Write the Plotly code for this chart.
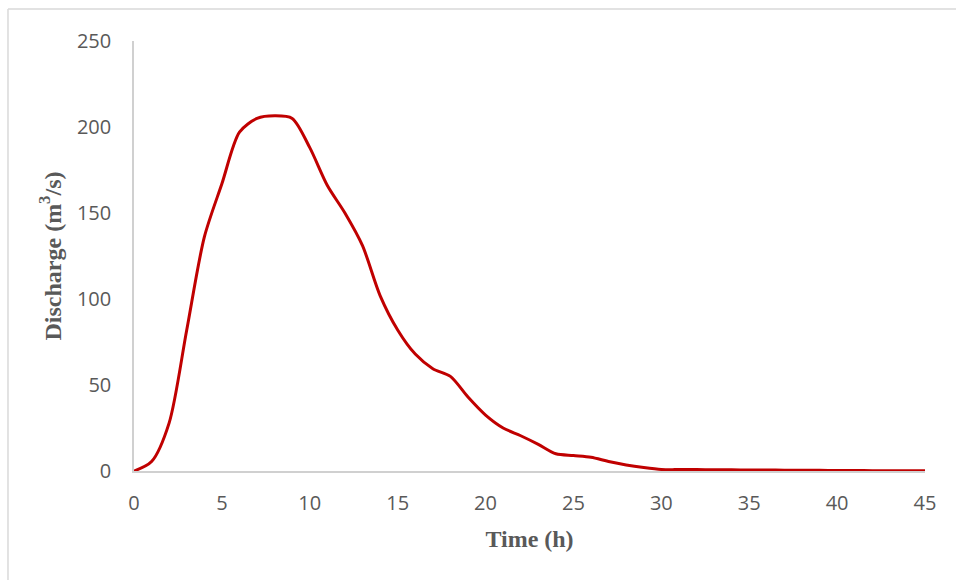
import plotly.graph_objects as go

# Data
time_h = list(range(0, 46))
discharge = [0, 5.5, 28, 82, 136, 167, 197, 205, 206.5, 205, 188, 166, 150, 131, 102,
             82, 68, 59.5, 55, 43, 32.5, 25, 20.5, 15.5, 10, 9, 8, 5.5, 3.5, 2,
             0.9, 0.8, 0.8, 0.7, 0.7, 0.6, 0.6, 0.5, 0.4, 0.4, 0.3, 0.3, 0.2, 0.2, 0.1, 0.1]

x_ticks = [0, 5, 10, 15, 20, 25, 30, 35, 40, 45]
y_ticks = [0, 50, 100, 150, 200, 250]

fig = go.Figure()
fig.add_trace(go.Scatter(
    x=time_h, y=discharge, mode="lines",
    line=dict(color="#C00000", width=3, shape="spline", smoothing=0.8),
    showlegend=False, hoverinfo="x+y",
))

tick_font = dict(family="Open Sans", size=20, color="#595959")
title_font = dict(family="Liberation Serif", size=24, color="#595959")

fig.update_layout(
    width=956, height=580,
    margin=dict(l=134, r=31, t=41, b=109),
    paper_bgcolor="white", plot_bgcolor="white",
    xaxis=dict(
        range=[0, 45], tickvals=x_ticks, ticktext=[str(v) for v in x_ticks],
        showgrid=False, zeroline=False, showline=True, linecolor="#d0d0d0", linewidth=1.5,
        ticks="", ticklabelstandoff=13, tickfont=tick_font,
        title=dict(text="<b>Time (h)</b>", font=title_font, standoff=15),
    ),
    yaxis=dict(
        range=[0, 250], tickvals=y_ticks, ticktext=[str(v) for v in y_ticks],
        showgrid=False, zeroline=False, showline=True, linecolor="#d0d0d0", linewidth=1.5,
        ticks="", ticklabelstandoff=17, tickfont=tick_font,
        title=dict(text="<b>Discharge (m<sup>3</sup>/s)</b>", font=title_font, standoff=9),
    ),
    shapes=[
        dict(type="line", xref="paper", yref="paper", x0=-0.1593, x1=1.06, y0=1.0744, y1=1.0744,
             line=dict(color="#d9d9d9", width=1.5)),
        dict(type="line", xref="paper", yref="paper", x0=-0.1593, x1=-0.1593, y0=1.0744, y1=-0.3,
             line=dict(color="#d9d9d9", width=1.5)),
    ],
)

fig.write_html(
    "out.html",
    config={"displayModeBar": False},
    post_script="document.body.style.margin='0';document.body.style.overflow='hidden';",
)
